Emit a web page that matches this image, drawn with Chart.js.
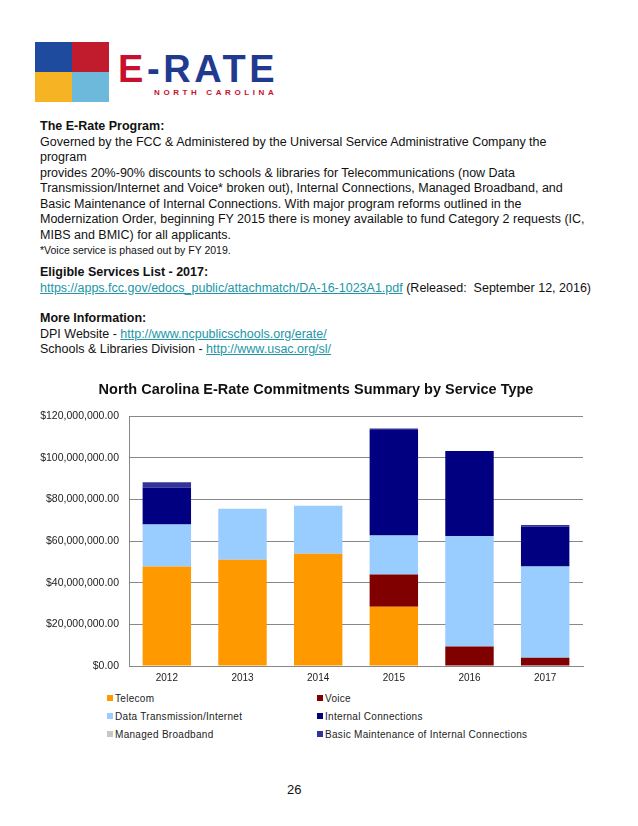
<!DOCTYPE html>
<html>
<head>
<meta charset="utf-8">
<script src="https://cdn.jsdelivr.net/npm/chart.js@4"></script>
<style>
  body { margin: 0; background: #fff; font-family: "Liberation Sans", Arial, sans-serif; color: #111; }
  #page { position: relative; width: 638px; height: 826px; overflow: hidden; }
  .sq { position: absolute; width: 37px; height: 30px; }
  #erate { position: absolute; left: 118px; top: 49px; font-size: 38px; font-weight: bold; letter-spacing: 3.6px; color: #1f3a8f; line-height: 40px; }
  #erate span { color: #c8102e; }
  #nc { position: absolute; left: 154px; top: 88px; font-size: 8px; font-weight: bold; letter-spacing: 3.6px; color: #c8102e; }
  .txt { position: absolute; left: 40px; font-size: 12.5px; line-height: 15.5px; white-space: nowrap; }
  .txt b { font-weight: bold; }
  .txt a { color: #2196a6; }
  .small { font-size: 10.5px; }
  #wrap { position: absolute; left: 0; top: 375px; width: 632px; height: 315px; }
  #legend { position: absolute; left: 107px; top: 693px; width: 470px; font-size: 10px; letter-spacing: 0.3px; color: #222; }
  .li { position: absolute; white-space: nowrap; }
  .li i { display: inline-block; width: 6px; height: 6px; margin-right: 2px; vertical-align: 1px; }
  #pnum { position: absolute; left: 287px; top: 782px; font-size: 13px; }
</style>
</head>
<body>
<div id="page">
  <div class="sq" style="left:35px;top:42px;background:#1e4b9e"></div>
  <div class="sq" style="left:72px;top:42px;background:#c01c2e"></div>
  <div class="sq" style="left:35px;top:72px;background:#f6b323"></div>
  <div class="sq" style="left:72px;top:72px;background:#6cb9dc"></div>
  <div id="erate"><span>E</span>-RATE</div>
  <div id="nc">NORTH CAROLINA</div>

  <div class="txt" style="top:119px">
    <b>The E-Rate Program:</b><br>
    Governed by the FCC &amp; Administered by the Universal Service Administrative Company the<br>
    program<br>
    provides 20%-90% discounts to schools &amp; libraries for Telecommunications (now Data<br>
    Transmission/Internet and Voice* broken out), Internal Connections, Managed Broadband, and<br>
    Basic Maintenance of Internal Connections. With major program reforms outlined in the<br>
    Modernization Order, beginning FY 2015 there is money available to fund Category 2 requests (IC,<br>
    MIBS and BMIC) for all applicants.<br>
    <span class="small">*Voice service is phased out by FY 2019.</span>
  </div>
  <div class="txt" style="top:265px">
    <b>Eligible Services List - 2017:</b><br>
    <a href="#">https://apps.fcc.gov/edocs_public/attachmatch/DA-16-1023A1.pdf</a> (Released:&nbsp; September 12, 2016)
  </div>
  <div class="txt" style="top:311px">
    <b>More Information:</b><br>
    DPI Website - <a href="#">http://www.ncpublicschools.org/erate/</a><br>
    Schools &amp; Libraries Division - <a href="#">http://www.usac.org/sl/</a>
  </div>

  <div id="wrap"><canvas id="chart"></canvas></div>
  <div id="legend"></div>
  <div id="pnum">26</div>
</div>

<script>
// years and commitments per service type (dollars)
const years = ['2012', '2013', '2014', '2015', '2016', '2017'];
const telecom = [47800000, 51100000, 54000000, 28500000, 0, 0];
const voice = [0, 0, 0, 15500000, 9400000, 4000000];
const dataInternet = [20200000, 24500000, 23000000, 18800000, 53100000, 43800000];
const internalConn = [17700000, 0, 0, 50700000, 40900000, 19300000];
const managedBroadband = [0, 0, 0, 0, 0, 0];
const basicMaint = [2600000, 0, 0, 700000, 0, 700000];
const yTicks = [0, 20000000, 40000000, 60000000, 80000000, 100000000, 120000000];

const font = "'Liberation Sans', Arial, sans-serif";

function ds(label, data, color) {
  return { label: label, data: data, backgroundColor: color, borderWidth: 0 };
}

const ctx = document.getElementById('chart').getContext('2d');
const myChart = new Chart(ctx, {
  type: 'bar',
  data: {
    labels: years,
    datasets: [
      ds('Telecom', telecom, '#ff9900'),
      ds('Voice', voice, '#800000'),
      ds('Data Transmission/Internet', dataInternet, '#99ccff'),
      ds('Internal Connections', internalConn, '#000080'),
      ds('Managed Broadband', managedBroadband, '#c0c8c8'),
      ds('Basic Maintenance of Internal Connections', basicMaint, '#333399')
    ]
  },
  options: {
    responsive: true,
    maintainAspectRatio: false,
    animation: false,
    layout: { padding: 0 },
    datasets: { bar: { barPercentage: 0.64, categoryPercentage: 1 } },
    plugins: {
      legend: { display: false },
      tooltip: { enabled: false },
      title: {
        display: true,
        text: 'North Carolina E-Rate Commitments Summary by Service Type',
        color: '#111',
        font: { family: font, size: 14.5, weight: 'bold' },
        padding: { top: 6, bottom: 18 }
      }
    },
    scales: {
      x: {
        stacked: true,
        grid: { display: false, drawTicks: false },
        border: { display: true, color: '#888' },
        ticks: { color: '#222', padding: 6, font: { family: font, size: 10 } },
        afterFit: (s) => { s.height = 24; }
      },
      y: {
        stacked: true,
        min: 0,
        max: 120000000,
        afterBuildTicks: (s) => { s.ticks = yTicks.map(v => ({ value: v })); },
        grid: { color: '#888', drawTicks: false },
        border: { display: true, color: '#888' },
        ticks: {
          color: '#222',
          padding: 10,
          font: { family: font, size: 10.5 },
          callback: (v) => '$' + Number(v).toLocaleString('en-US', { minimumFractionDigits: 2, maximumFractionDigits: 2 })
        },
        afterFit: (s) => { s.width = 129; }
      },
      // empty right-hand axis, only keeps the plot clear of the right margin
      yRight: {
        position: 'right',
        min: 0,
        max: 120000000,
        grid: { display: false, drawTicks: false },
        border: { display: false },
        ticks: { display: false },
        afterFit: (s) => { s.width = 49; }
      }
    }
  }
});

// legend in two columns, built from the chart's datasets
const legendEl = document.getElementById('legend');
myChart.data.datasets.forEach((d, i) => {
  const item = document.createElement('div');
  item.className = 'li';
  item.style.left = (i % 2 ? 210 : 0) + 'px';
  item.style.top = (Math.floor(i / 2) * 18) + 'px';
  item.innerHTML = `<i style="background:${d.backgroundColor}"></i>${d.label}`;
  legendEl.appendChild(item);
});
</script>
</body>
</html>
